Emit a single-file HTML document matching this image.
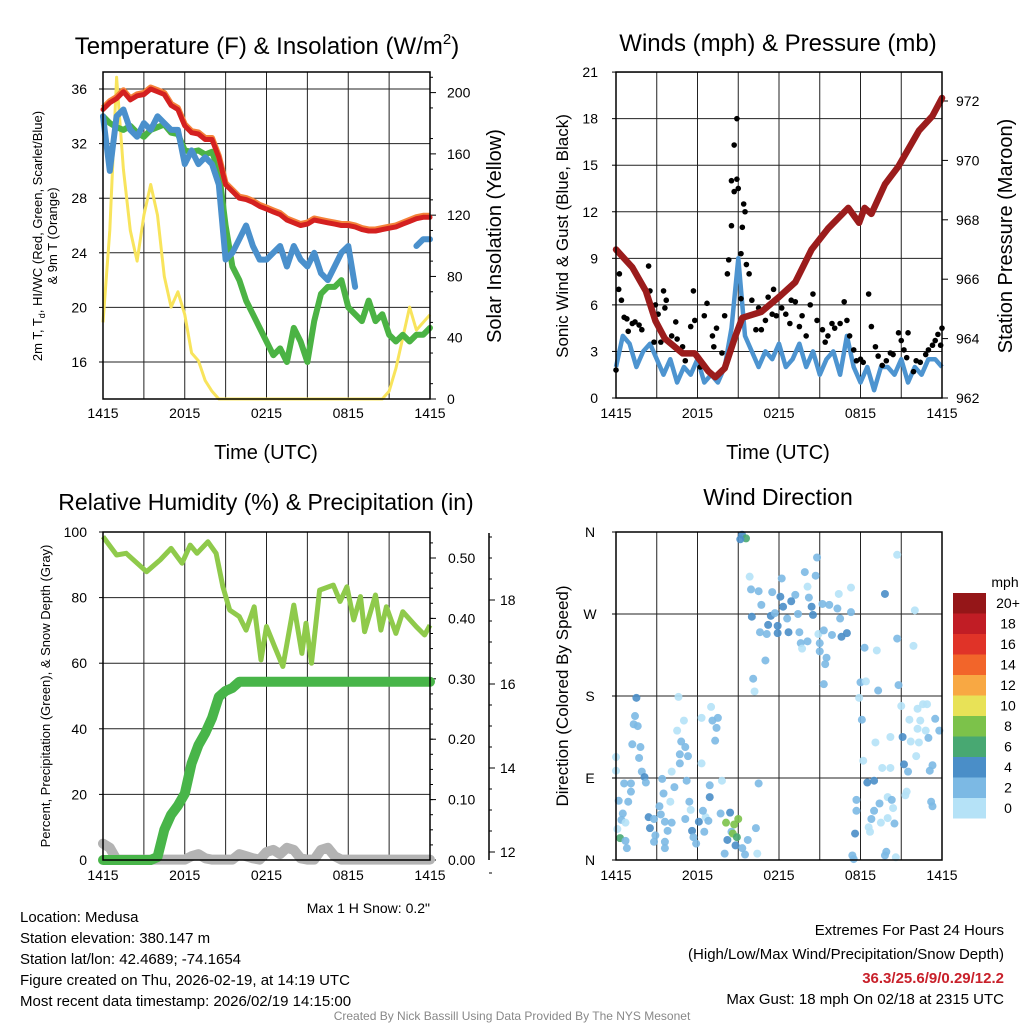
<!DOCTYPE html>
<html><head><meta charset="utf-8"><style>
body{margin:0;background:#fff;}
svg text{font-family:"Liberation Sans",Arial,sans-serif;fill:#000;}
</style></head><body>
<svg id="s" width="1024" height="1024" viewBox="0 0 1024 1024" xmlns="http://www.w3.org/2000/svg">
<rect width="1024" height="1024" fill="#fff"/>
<g id="g"></g>
<text x="267" y="54" font-size="24" text-anchor="middle">Temperature (F) &amp; Insolation (W/m<tspan font-size="15" dy="-10">2</tspan><tspan dy="10">)</tspan></text>
<text x="778" y="51" font-size="24" text-anchor="middle">Winds (mph) &amp; Pressure (mb)</text>
<text x="266" y="510" font-size="23" text-anchor="middle">Relative Humidity (%) &amp; Precipitation (in)</text>
<text x="778" y="505" font-size="23" text-anchor="middle">Wind Direction</text>
<text x="266" y="459" font-size="20" text-anchor="middle">Time (UTC)</text>
<text x="778" y="459" font-size="20" text-anchor="middle">Time (UTC)</text>
<text transform="translate(42,236) rotate(-90)" font-size="13" text-anchor="middle">2m T, T<tspan font-size="9" dy="3">d</tspan><tspan dy="-3">, HI/WC (Red, Green, Scarlet/Blue)</tspan></text>
<text transform="translate(57,236) rotate(-90)" font-size="13" text-anchor="middle">&amp; 9m T (Orange)</text>
<text transform="translate(501,236) rotate(-90)" font-size="20" text-anchor="middle">Solar Insolation (Yellow)</text>
<text transform="translate(568,236) rotate(-90)" font-size="17" text-anchor="middle">Sonic Wind &amp; Gust (Blue, Black)</text>
<text transform="translate(1012,236) rotate(-90)" font-size="20" text-anchor="middle">Station Pressure (Maroon)</text>
<text transform="translate(50,696) rotate(-90)" font-size="13" text-anchor="middle">Percent, Precipitation (Green), &amp; Snow Depth (Gray)</text>
<text transform="translate(568,696) rotate(-90)" font-size="17" text-anchor="middle">Direction (Colored By Speed)</text>
<text x="430" y="913" font-size="14" text-anchor="end">Max 1 H Snow: 0.2"</text>
<g font-size="15">
<text x="20" y="922">Location: Medusa</text>
<text x="20" y="943">Station elevation: 380.147 m</text>
<text x="20" y="964">Station lat/lon: 42.4689; -74.1654</text>
<text x="20" y="985">Figure created on Thu, 2026-02-19, at 14:19 UTC</text>
<text x="20" y="1006">Most recent data timestamp: 2026/02/19 14:15:00</text>
</g>
<g font-size="15" text-anchor="end">
<text x="1004" y="935">Extremes For Past 24 Hours</text>
<text x="1004" y="959">(High/Low/Max Wind/Precipitation/Snow Depth)</text>
<text x="1004" y="983" font-weight="bold" style="fill:#c8202a">36.3/25.6/9/0.29/12.2</text>
<text x="1004" y="1004">Max Gust: 18 mph On 02/18 at 2315 UTC</text>
</g>
<text x="512" y="1020" font-size="12" text-anchor="middle" style="fill:#888">Created By Nick Bassill Using Data Provided By The NYS Mesonet</text>
</svg>
<script>
// ---- Temperature panel data (30-min steps, hours 0..24) ----
const tempT=[34.5,35,35.3,35.8,35.2,35.5,35.6,36,35.8,35.6,34.8,34.5,33.3,32.8,32.7,32.3,32.3,31,29,28.5,28,27.9,27.7,27.4,27.2,27,26.8,26.4,26.2,26,26.1,26.4,26.3,26.2,26.1,26,26,25.9,25.7,25.6,25.6,25.7,25.8,25.9,26.1,26.3,26.5,26.6,26.6];
const tempTd=[34,33.5,33.2,33,33.3,32.8,32.5,33,33.2,33.4,32.8,32.7,31.5,31.4,31.5,31.2,31.4,30,26,23,22,20.5,19.5,18.5,17.5,16.5,17,16,18.5,17.5,16,19,21,21.5,21.5,22,20,19.5,19,20.5,19,19.5,18,17.5,18,17.5,18,18,18.5];
const tempWC=[34,30,34,34.5,33,32.5,33.5,33,34,33.5,33,33,30.5,31.5,30.5,31,30.5,29,23.5,24,25,26,24.5,23.5,23.5,24,24.5,23,24.5,23.5,23,24,22.5,22,23,24,24.5,21.5,null,null,null,null,23,null,null,null,24.5,25,25];
const solar=[50,110,210,150,110,90,120,140,120,80,60,70,55,30,25,12,5,0,0,0,0,0,0,0,0,0,0,0,0,0,0,0,0,0,0,0,0,0,0,0,0,0,5,20,40,60,45,50,55];
const tempTicks=[16,20,24,28,32,36];
const solarTicks=[0,40,80,120,160,200];
const timeLabels=["1415","2015","0215","0815","1415"];
// ---- Winds panel data ----
const windSpeed=[2,4,3.5,2,3,3.5,2.5,1.5,2.5,1,2,1.5,2.5,1,1.5,1,2,4.5,9,4,3,2,3,2.5,3.5,2,2.5,3.5,2,3,1.5,2.5,3,1.5,4,2,1,2,0.5,2,2,1.5,2.5,1,2,1.5,2.5,2.5,2];
const presTime=[0,1.2,2.2,2.9,3.6,4.9,5.8,6.8,7.3,8,8.8,9.3,10.7,12,13.2,14.4,15.6,17.1,17.9,18.3,18.8,19.8,20.8,22.3,23.3,24];
const presVal=[967,966.4,965.6,964.6,964,963.5,963.5,962.9,962.7,963,964.1,964.7,964.9,965.4,965.9,967,967.7,968.4,967.9,968.4,968.2,969.2,969.8,971,971.5,972.1];
const gustTime=[0,0.25,0.2,0.4,0.6,0.8,1.2,1.4,0.9,1.7,1.9,2.4,2.5,2.6,2.9,3.1,3.5,3.7,3.6,3.3,2.8,4.1,4.5,4.4,4.9,5.1,5.5,5.7,5.8,6.2,6.5,6.7,7.1,7.2,7.4,7.8,8,8.2,8.3,8.5,8.5,8.7,8.7,8.9,8.9,9,9.3,9.4,9.5,9.2,9.6,9.8,9.2,10,10.3,10.5,10.7,11,11.2,11.6,11.5,11.8,12.2,12.5,12.8,12.9,13.2,13.5,13.7,14,14.3,14.5,14.8,15.2,15.4,15.6,15.9,16.1,16.5,16.8,17,17.2,17.5,17.7,18,18.2,18.6,18.8,19.1,19.3,19.6,19.9,20.2,20.4,20.8,21,21.2,21.4,21.5,21.9,22.1,22.4,22.8,23,23.3,23.5,23.7,23.9,24];
const gustVal=[1.8,8,7,6.3,5.2,5.1,4.8,4.9,4.3,4.7,4.4,8.5,6.9,5.9,6,5.4,6.9,6.3,5.8,3.6,3.6,4,3.8,4.9,3.3,2.4,4.6,6.9,5,2,5.3,6.1,4,3.3,4.5,2.9,5.3,8,8.9,11.1,14,13.3,16.3,14.1,18,13.5,11,12.5,12,9.3,8.6,8,6.4,6.3,4.4,5.8,4.4,5,6.5,7,5.4,5.3,5.8,5.4,4.8,6.3,6.2,4.6,5.3,4,6,6.7,5,4.4,3.6,4,4.8,4.5,4.8,6.2,5,4,3.1,2.4,2.5,2.3,6.7,4.6,3.3,2.7,2.1,2.4,2.9,2.8,4.2,3.7,3.1,2.6,4.2,1.7,2.4,2.3,2.8,3.1,3.4,3.7,4.1,3.4,4.5];
const windTicks=[0,3,6,9,12,15,18,21];
const presTicks=[962,964,966,968,970,972];
// ---- Humidity panel data ----
const rhTime=[0,1,1.7,3.2,4.2,5,5.8,6.4,6.9,7.7,8.3,8.8,9.3,10,10.5,11.1,11.6,12,12.6,13.2,14,14.6,14.9,15.3,15.9,16.9,17.4,17.9,18.4,18.9,19.2,20,20.4,20.8,21.5,22,23,23.6,24];
const rhVal=[98.6,93,93.5,87.9,91.5,95,90.5,96,93.5,97,93.5,83.3,76.2,74.2,70.1,77.2,61,71.2,65,59,77.7,63,72.2,60,82.3,83.8,78.8,83.3,73.2,80.3,69.6,80.8,70.1,77.2,69.1,75.7,71.1,68.6,71.6];
const precip=[0,0,0,0,0,0,0,0,0.005,0.05,0.075,0.09,0.11,0.16,0.19,0.21,0.235,0.27,0.28,0.285,0.295,0.295,0.295,0.295,0.295,0.295,0.295,0.295,0.295,0.295,0.295,0.295,0.295,0.295,0.295,0.295,0.295,0.295,0.295,0.295,0.295,0.295,0.295,0.295,0.295,0.295,0.295,0.295,0.295];
const snow=[12.2,12.1,11.82,11.82,11.82,11.82,11.82,11.82,11.82,11.82,11.82,11.82,11.82,11.9,11.95,11.85,11.82,11.82,11.82,11.82,11.95,11.9,11.85,11.82,12,12.05,11.95,12.1,12.05,11.85,11.82,11.82,12.05,12.1,11.9,11.82,11.82,11.82,11.82,11.82,11.82,11.82,11.82,11.82,11.82,11.82,11.82,11.82,11.82];
const rhTicks=[0,20,40,60,80,100];
const precipTicks=[0,0.1,0.2,0.3,0.4,0.5];
const snowTicks=[12,14,16,18];
// ---- Wind direction data (time h, direction deg, speed mph) ----
const dirTime=[9.28,9.57,9.15,14.8,20.7,9.84,12.2,13.9,14.7,9.94,10.5,11.5,12.1,13.2,14.1,14.2,16.4,17.3,19.8,22,10.7,12.3,12.9,14.4,15.2,15.7,16.3,17.3,10,11.4,11.7,12.6,13.4,14.5,16.5,11.2,11.9,10.6,11.1,11.9,12.7,13.5,14.9,15.3,15.9,16.6,17,13.6,14.1,13.7,15,15,15.5,15.4,11,18.3,19.2,20.7,21.9,10.1,10.2,15.3,18,18.4,19.3,20.8,1.5,4.6,1.4,1.3,1.6,1.2,1.8,1.7,7,6.3,7.1,7.5,5,7.4,4.5,7.3,4.8,5.1,4.7,5.3,4.7,6.3,0,0,1.9,2.1,2.2,4.1,3.4,4.3,5.2,6.9,7.8,10.5,17.9,18.1,21,22.2,22.6,22.9,21.6,22.4,23.5,22.2,22.8,23.8,21.1,20.2,19.1,21.7,22.3,23,22.1,21.2,18.2,19.6,20.2,21.5,23.3,23.1,0.6,1.1,1.1,0.2,0.9,0.5,0.4,0.7,0.1,0.3,0.7,0.8,2.4,2.8,3.3,3.5,4,3.2,3.6,4.1,2.5,2.9,2.8,3.6,3.6,3.8,5.4,5.5,5.1,6.1,5.6,5.7,5.9,6.6,6.8,6.5,6.4,6.9,7.7,8.1,8.4,9,8.7,8.5,8.6,8.9,8.2,8.8,9.3,9.5,9.7,10.3,10.4,8,17.7,18.5,19,17.7,17.6,17.4,17.5,19,18.8,18.6,18.7,19.5,20,20,20.4,19.4,20.3,20.5,19.9,19.8,20.6,21.3,21.4,23.2,23.3];
const dirDeg=[357,353,352,332,335,311,309,316,312,297,295,294,289,291,300,288,292,299,292,274,280,278,284,278,281,280,276,272,267,268,271,265,270,269,265,258,257,250,248,249,250,250,248,252,247,245,249,238,240,232,238,229,222,215,219,233,230,243,235,199,185,193,195,196,186,192,178,179,158,149,147,127,124,112,168,156,153,156,153,145,142,131,130,124,116,114,106,106,113,98,97,91,85,97,89,80,87,82,87,84,178,154,169,166,171,171,154,153,155,144,142,142,135,135,129,130,129,134,114,105,109,101,101,97,104,98,84,84,75,65,64,51,44,41,34,24,21,13,47,45,50,73,64,59,42,41,35,27,20,20,13,32,64,55,45,42,32,25,18,47,43,31,54,69,51,41,52,45,39,31,29,25,22,16,13,6,22,35,7,7,66,85,87,54,29,5,1,54,45,36,31,41,46,69,57,62,66,40,9,5,3,71,75,64,59];
const dirSpeed=[5,7,5,3,1,1,3,3,3,3,3,3,5,3,1,3,1,1,5,1,3,5,5,5,3,3,3,3,5,5,3,3,3,5,3,5,5,3,3,5,5,3,1,3,3,5,5,3,3,1,3,3,3,3,3,3,1,3,1,3,1,3,3,1,3,3,5,1,3,3,3,3,3,3,1,1,3,3,1,3,1,3,3,3,3,3,3,1,1,1,3,5,3,1,3,3,3,3,1,3,1,3,1,1,1,1,1,1,3,1,1,3,5,1,1,1,1,3,1,5,1,1,1,3,3,3,3,3,3,3,3,3,3,1,1,7,3,3,5,3,3,3,1,3,3,3,5,3,3,3,3,3,3,1,3,5,5,3,3,1,3,3,3,5,3,9,5,9,9,3,9,7,5,5,3,3,3,3,1,3,3,5,5,3,5,3,3,3,3,1,1,1,1,1,1,3,3,3,3,3,1,1,1,3,3,3,3,3];
const dirTicks=["N","E","S","W","N"];
const cbLabels=["0","2","4","6","8","10","12","14","16","18","20+"];
const cbColors=["#b5e2f7","#7cb9e4","#4a8ec8","#48a872","#7cc24a","#e8e257","#f8a843","#f2652a","#e03328","#c11d25","#951618"];

const NS="http://www.w3.org/2000/svg";
const G=document.getElementById('g');
function mk(tag,attrs,parent){const e=document.createElementNS(NS,tag);for(const k in attrs)e.setAttribute(k,attrs[k]);(parent||G).appendChild(e);return e;}
function txt(x,y,s,size,anchor,parent){const e=mk('text',{x:x,y:y,'font-size':size,'text-anchor':anchor},parent);e.textContent=s;return e;}
function mapN(arr,f){return arr.map(v=>(v===null||v===undefined)?null:f(v));}
function pathFrom(xs,ys){let d='',pen=false;for(let i=0;i<xs.length;i++){if(ys[i]===null||ys[i]===undefined){pen=false;continue;}d+=(pen?'L':'M')+xs[i].toFixed(1)+' '+ys[i].toFixed(1);pen=true;}return d;}
const half=precip.map((_,i)=>i*0.5);

function frame(name){
  const g=mk('g',{});
  
  
  return g;
}
function grid(g,x0,x1,y0,y1,ys){
  for(let k=0;k<=8;k++){const x=x0+(x1-x0)*k/8;const l=mk('line',{x1:x,x2:x,y1:y0,y2:y1,stroke:'#222','stroke-width':1},g);}
  ys.forEach(y=>{const l=mk('line',{x1:x0,x2:x1,y1:y,y2:y,stroke:'#222','stroke-width':1},g);});
}
function xlabels(g,x0,x1,y){timeLabels.forEach((s,i)=>{const t=txt(x0+(x1-x0)*i/4,y,s,14,'middle',g);});}
function box(g,x0,x1,y0,y1){const r=mk('rect',{x:x0,y:y0,width:x1-x0,height:y1-y0,fill:'none',stroke:'#000','stroke-width':1.5},g);}

// ===== Panel 1: Temperature =====
(function(){
  const x0=103,x1=430,y0=72,y1=399;
  const tx=t=>x0+t*(x1-x0)/24, ty=v=>89+(36-v)*13.65, sy=w=>399-w*1.532;
  const g=frame('temperature-panel');
  grid(g,x0,x1,y0,y1,tempTicks.map(ty));
  tempTicks.forEach(v=>{const t=txt(87,ty(v)+5,String(v),14,'end',g);mk('line',{x1:x0-4,x2:x0,y1:ty(v),y2:ty(v),stroke:'#000'},g);});
  solarTicks.forEach(v=>{const t=txt(447,sy(v)+5,String(v),14,'start',g);mk('line',{x1:x1,x2:x1+6,y1:sy(v),y2:sy(v),stroke:'#000'},g);});
  for(let v=10;v<=210;v+=20){mk('line',{x1:x1,x2:x1+3,y1:sy(v),y2:sy(v),stroke:'#000'},g);}
  xlabels(g,x0,x1,418);
  const xs=half.map(tx);
  let p;
  p=mk('path',{d:pathFrom(xs,mapN(solar,sy)),fill:'none',stroke:'#f8e45c','stroke-width':3,'stroke-linejoin':'round'},g);
  
  p=mk('path',{d:pathFrom(xs,mapN(tempTd,ty)),fill:'none',stroke:'#4bb344','stroke-width':6,'stroke-linejoin':'round','stroke-linecap':'round'},g);
  
  p=mk('path',{d:pathFrom(xs,mapN(tempWC,ty)),fill:'none',stroke:'#4a90cc','stroke-width':6,'stroke-linejoin':'round','stroke-linecap':'round'},g);
  
  p=mk('path',{d:pathFrom(xs,mapN(tempT,v=>ty(v)-1.5)),fill:'none',stroke:'#f5823a','stroke-width':6,'stroke-linejoin':'round'},g);
  
  p=mk('path',{d:pathFrom(xs,mapN(tempT,ty)),fill:'none',stroke:'#d42020','stroke-width':5,'stroke-linejoin':'round','stroke-linecap':'round'},g);
  
  box(g,x0,x1,y0,y1);
})();

// ===== Panel 2: Winds =====
(function(){
  const x0=616,x1=942,y0=72,y1=398;
  const wx=t=>x0+t*(x1-x0)/24, wy=v=>y1-v*15.52, py=p=>398-(p-962)*29.7;
  const g=frame('winds-panel');
  grid(g,x0,x1,y0,y1,windTicks.map(wy));
  windTicks.forEach(v=>{const t=txt(598,wy(v)+5,String(v),14,'end',g);mk('line',{x1:x0-4,x2:x0,y1:wy(v),y2:wy(v),stroke:'#000'},g);});
  presTicks.forEach(v=>{const t=txt(956,py(v)+5,String(v),14,'start',g);mk('line',{x1:x1,x2:x1+6,y1:py(v),y2:py(v),stroke:'#000'},g);});
  xlabels(g,x0,x1,418);
  let p=mk('path',{d:pathFrom(half.map(wx),mapN(windSpeed,wy)),fill:'none',stroke:'#4d94d0','stroke-width':4.5,'stroke-linejoin':'round'},g);
  
  gustTime.forEach((t,i)=>{const c=mk('circle',{cx:wx(t),cy:wy(gustVal[i]),r:2.8,fill:'#000'},g);});
  p=mk('path',{d:pathFrom(presTime.map(wx),mapN(presVal,py)),fill:'none',stroke:'#9b1c1c','stroke-width':6.5,'stroke-linejoin':'round','stroke-linecap':'round'},g);
  
  box(g,x0,x1,y0,y1);
})();

// ===== Panel 3: Humidity =====
(function(){
  const x0=103,x1=430,y0=532,y1=860;
  const rx=t=>x0+t*(x1-x0)/24, ry=v=>y1-v*3.28, pry=p=>860-p*604, sny=s=>852-(s-12)*42;
  const g=frame('humidity-panel');
  grid(g,x0,x1,y0,y1,rhTicks.map(ry));
  rhTicks.forEach(v=>{const t=txt(87,ry(v)+5,String(v),14,'end',g);mk('line',{x1:x0-4,x2:x0,y1:ry(v),y2:ry(v),stroke:'#000'},g);});
  precipTicks.forEach(v=>{const t=txt(448,pry(v)+5,v.toFixed(2),14,'start',g);mk('line',{x1:x1,x2:x1+6,y1:pry(v),y2:pry(v),stroke:'#000'},g);});
  for(let v=0.025;v<0.55;v+=0.025){mk('line',{x1:x1,x2:x1+3,y1:pry(v),y2:pry(v),stroke:'#000'},g);}
  mk('line',{x1:489,x2:489,y1:533,y2:860,stroke:'#000','stroke-width':1.5},g);
  snowTicks.forEach(v=>{const t=txt(500,sny(v)+5,String(v),14,'start',g);mk('line',{x1:489,x2:495,y1:sny(v),y2:sny(v),stroke:'#000'},g);});
  for(let v=11.5;v<19.6;v+=0.5){mk('line',{x1:489,x2:492,y1:sny(v),y2:sny(v),stroke:'#000'},g);}
  xlabels(g,x0,x1,880);
  let p=mk('path',{d:pathFrom(half.map(rx),mapN(snow,sny)),fill:'none',stroke:'#b3b3b3','stroke-width':10,'stroke-linejoin':'round','stroke-linecap':'round'},g);
  
  p=mk('path',{d:pathFrom(rhTime.map(rx),mapN(rhVal,ry)),fill:'none',stroke:'#8fca4b','stroke-width':5,'stroke-linejoin':'round'},g);
  
  p=mk('path',{d:pathFrom(half.map(rx),mapN(precip,pry)),fill:'none',stroke:'#48b549','stroke-width':10,'stroke-linejoin':'round','stroke-linecap':'round'},g);
  
  box(g,x0,x1,y0,y1);
})();

// ===== Panel 4: Wind direction =====
(function(){
  const x0=616,x1=942,y0=532,y1=860;
  const dx=t=>x0+t*(x1-x0)/24, dy=d=>y1-d*(y1-y0)/360;
  const g=frame('wind-direction-panel');
  grid(g,x0,x1,y0,y1,[0,90,180,270,360].map(dy));
  dirTicks.forEach((s,i)=>{const t=txt(590,dy(i*90)+5,s,14,'middle',g);mk('line',{x1:x0-4,x2:x0,y1:dy(i*90),y2:dy(i*90),stroke:'#000'},g);});
  xlabels(g,x0,x1,880);
  dirTime.forEach((t,i)=>{const sp=(dirSpeed[i]===undefined)?3:dirSpeed[i];const c=mk('circle',{cx:dx(t),cy:dy(dirDeg[i]),r:4,fill:cbColors[Math.min(10,Math.floor(sp/2))],'fill-opacity':0.9},g);});
  box(g,x0,x1,y0,y1);
  const cb=mk('g',{},G);
  
  
  txt(1005,587,'mph',14,'middle',cb);
  cbColors.forEach((c,i)=>{const y=798-i*20.5;mk('rect',{x:953,y:y,width:33,height:20.5,fill:c},cb);const t=txt(1008,y+15,cbLabels[i],14,'middle',cb);});
})();
</script>
</body></html>
